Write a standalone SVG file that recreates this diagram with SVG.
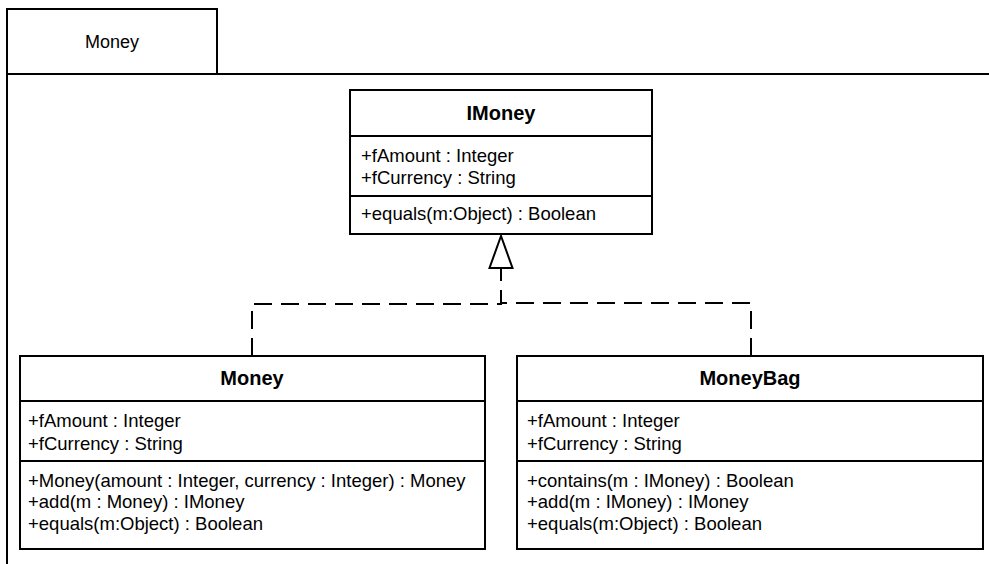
<svg xmlns="http://www.w3.org/2000/svg" width="989" height="564" viewBox="0 0 989 564">
<style>
.ln{fill:none;stroke:#000;stroke-width:2}
.box{fill:#fff;stroke:#000;stroke-width:2}
.t{font-family:"Liberation Sans",Arial,sans-serif;font-size:18.5px;fill:#000}
.p{font-family:"Liberation Sans",Arial,sans-serif;font-size:18px;fill:#000;text-anchor:middle}
.h{font-family:"Liberation Sans",Arial,sans-serif;font-size:20px;font-weight:bold;fill:#000;text-anchor:middle}
.dash{fill:none;stroke:#000;stroke-width:2;stroke-dasharray:18 9}
</style>
<rect x="0" y="0" width="989" height="564" fill="#fff"/>
<g id="package">
<path class="ln" d="M7,564 V9 H217 V74 M7,74 H990"/>
<text class="p" x="112" y="48">Money</text>
</g>
<g id="connectors">
<path class="dash" d="M252,356 V304 H501 V268"/>
<path class="dash" d="M751,356 V303 H501"/>
<polygon class="box" points="501,236 489.5,268 512.5,268"/>
</g>
<g id="IMoney">
<rect class="box" x="350" y="90" width="302" height="144"/>
<line class="ln" x1="350" y1="136" x2="652" y2="136"/>
<line class="ln" x1="350" y1="196" x2="652" y2="196"/>
<text class="h" x="501" y="120">IMoney</text>
<text class="t" x="361" y="162">+fAmount : Integer</text>
<text class="t" x="361" y="184">+fCurrency : String</text>
<text class="t" x="361" y="220">+equals(m:Object) : Boolean</text>
</g>
<g id="Money">
<rect class="box" x="20" y="356" width="465" height="193"/>
<line class="ln" x1="20" y1="401" x2="485" y2="401"/>
<line class="ln" x1="20" y1="461" x2="485" y2="461"/>
<text class="h" x="252" y="385">Money</text>
<text class="t" x="28" y="427">+fAmount : Integer</text>
<text class="t" x="28" y="450">+fCurrency : String</text>
<text class="t" x="28" y="487">+Money(amount : Integer, currency : Integer) : Money</text>
<text class="t" x="28" y="508">+add(m : Money) : IMoney</text>
<text class="t" x="28" y="530">+equals(m:Object) : Boolean</text>
</g>
<g id="MoneyBag">
<rect class="box" x="517" y="356" width="466" height="193"/>
<line class="ln" x1="517" y1="401" x2="983" y2="401"/>
<line class="ln" x1="517" y1="461" x2="983" y2="461"/>
<text class="h" x="750" y="385">MoneyBag</text>
<text class="t" x="527" y="427">+fAmount : Integer</text>
<text class="t" x="527" y="450">+fCurrency : String</text>
<text class="t" x="527" y="487">+contains(m : IMoney) : Boolean</text>
<text class="t" x="527" y="508">+add(m : IMoney) : IMoney</text>
<text class="t" x="527" y="530">+equals(m:Object) : Boolean</text>
</g>
</svg>
